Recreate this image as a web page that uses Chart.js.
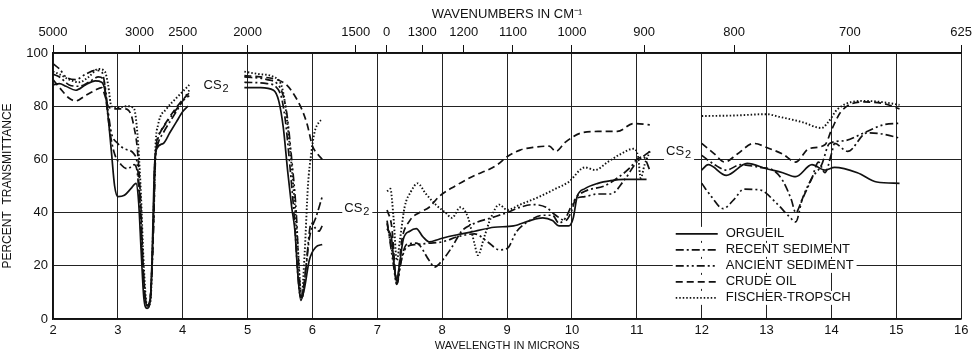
<!DOCTYPE html>
<html>
<head>
<meta charset="utf-8">
<script src="https://cdn.jsdelivr.net/npm/chart.js@4.4.0/dist/chart.umd.min.js"></script>
<style>
  html, body { margin: 0; padding: 0; background: #fff; }
  #wrap { width: 977px; height: 355px; }
</style>
</head>
<body>
<div id="wrap"><canvas id="mycanvas" width="977" height="355"></canvas></div>
<script>
var orgueil = [
    [2.0, 88], [2.1, 88.5], [2.2, 87.5], [2.35, 86], [2.5, 88], [2.65, 89.5], [2.75, 89], [2.8, 86], [2.85, 76],
    [2.9, 63], [2.95, 50], [3.0, 46], [3.1, 46.5], [3.2, 49], [3.28, 51], [3.32, 44], [3.36, 25], [3.4, 8],
    [3.45, 4], [3.5, 7], [3.53, 25], [3.56, 55], [3.6, 64], [3.7, 66], [3.8, 70], [3.9, 74], [4.0, 78], [4.08, 80],
    null,
    [4.95, 87], [5.2, 87], [5.4, 86], [5.48, 82], [5.55, 72], [5.62, 55], [5.68, 42], [5.73, 33], [5.77, 18],
    [5.82, 7], [5.88, 12], [5.95, 22], [6.05, 27], [6.15, 28],
    null,
    [7.15, 34], [7.22, 30], [7.27, 18], [7.3, 15], [7.35, 22], [7.4, 30], [7.5, 33], [7.6, 34], [7.7, 31],
    [7.8, 29], [7.95, 30], [8.1, 31], [8.3, 32], [8.5, 33], [8.8, 34.5], [9.1, 35], [9.35, 37], [9.55, 38],
    [9.7, 37], [9.8, 35], [9.95, 35], [10.02, 38], [10.08, 46], [10.2, 49], [10.4, 51], [10.6, 52], [10.8, 52.5],
    [11.15, 52.5],
    null,
    [12.0, 56], [12.1, 58], [12.38, 54], [12.7, 58.5], [13.0, 56.5], [13.25, 55], [13.45, 53.5], [13.7, 58],
    [13.9, 56], [14.05, 57], [14.4, 55], [14.7, 51.5], [15.05, 51]
];
var recentSediment = [
    [2.0, 92], [2.1, 91], [2.25, 88], [2.4, 87.5], [2.55, 89], [2.7, 91], [2.78, 90], [2.83, 80], [2.88, 70],
    [2.95, 62], [3.05, 58], [3.15, 56.5], [3.25, 58], [3.3, 55], [3.35, 35], [3.4, 12], [3.45, 5], [3.5, 8],
    [3.54, 30], [3.57, 58], [3.62, 66], [3.7, 70], [3.85, 76], [4.0, 82], [4.1, 86],
    null,
    [4.95, 89], [5.3, 88.5], [5.5, 85], [5.58, 75], [5.65, 58], [5.72, 38], [5.78, 15], [5.82, 8], [5.88, 15],
    [5.95, 30], [6.0, 35], [6.05, 38], [6.15, 46],
    null,
    [7.15, 36], [7.25, 22], [7.3, 13], [7.35, 20], [7.45, 28], [7.6, 28.5], [7.8, 22], [7.88, 19.5], [8.0, 22],
    [8.15, 27], [8.3, 33], [8.5, 36], [8.75, 38], [9.0, 40], [9.2, 42], [9.4, 43], [9.6, 42], [9.75, 39],
    [9.9, 37], [10.0, 41], [10.05, 45], [10.2, 48], [10.5, 50], [10.7, 53], [10.9, 57], [11.0, 60], [11.1, 61],
    [11.2, 56],
    null,
    [12.0, 61.5], [12.2, 58], [12.38, 56], [12.6, 58], [12.9, 57], [13.1, 56], [13.25, 52], [13.38, 45],
    [13.45, 40], [13.55, 45], [13.7, 53], [13.8, 59], [13.9, 55], [14.0, 62], [14.05, 66], [14.25, 63],
    [14.55, 70], [14.8, 69.5], [15.05, 68]
];
var ancientSediment = [
    [2.0, 96], [2.1, 94], [2.2, 91], [2.35, 90], [2.5, 92], [2.65, 93.5], [2.75, 93], [2.8, 88], [2.85, 78],
    [2.9, 70], [3.0, 66], [3.1, 64], [3.25, 62], [3.3, 58], [3.35, 40], [3.4, 15], [3.45, 5], [3.5, 8],
    [3.55, 35], [3.58, 60], [3.62, 68], [3.7, 72], [3.85, 77], [4.0, 82], [4.1, 84],
    null,
    [4.95, 91], [5.3, 90], [5.5, 87], [5.6, 78], [5.68, 60], [5.75, 40], [5.8, 15], [5.84, 8], [5.9, 20],
    [5.98, 36], [6.05, 34], [6.1, 33], [6.15, 35],
    null,
    [7.15, 37], [7.25, 20], [7.3, 13], [7.37, 22], [7.45, 27], [7.6, 28], [7.8, 28.5], [8.0, 29], [8.25, 31],
    [8.5, 32], [8.7, 29], [8.88, 26], [9.0, 26.5], [9.15, 33], [9.35, 37], [9.55, 39], [9.7, 39], [9.8, 36],
    [9.9, 38], [10.05, 45], [10.2, 46], [10.4, 47], [10.6, 47], [10.8, 52], [11.0, 59], [11.2, 63],
    null,
    [12.0, 51], [12.15, 46], [12.33, 41.5], [12.5, 45], [12.65, 48.8], [12.9, 48.5], [13.15, 43.6],
    [13.35, 38.5], [13.45, 36.5], [13.55, 45], [13.7, 53], [13.85, 58], [13.97, 66], [14.2, 67], [14.5, 70],
    [14.8, 73], [15.05, 73.6]
];
var crudeOil = [
    [2.0, 90], [2.1, 87], [2.25, 83], [2.35, 82], [2.5, 84], [2.65, 86], [2.75, 87], [2.8, 84], [2.85, 80],
    [2.95, 79], [3.1, 79], [3.2, 77], [3.25, 72], [3.3, 64], [3.35, 45], [3.4, 15], [3.45, 5], [3.5, 8],
    [3.55, 35], [3.58, 62], [3.65, 70], [3.8, 76], [3.95, 81], [4.1, 85],
    null,
    [4.95, 91.5], [5.2, 91], [5.45, 90], [5.6, 88], [5.75, 83], [5.85, 78], [5.92, 73], [6.0, 65], [6.08, 62],
    [6.15, 60],
    null,
    [7.15, 41], [7.22, 35], [7.3, 14], [7.38, 30], [7.5, 37], [7.65, 40], [7.8, 42], [7.95, 46], [8.2, 50],
    [8.5, 54], [8.7, 56], [8.85, 58], [9.0, 61], [9.2, 63.5], [9.4, 64.5], [9.65, 65], [9.75, 63], [9.9, 66.5],
    [10.15, 70], [10.4, 70.5], [10.7, 70.5], [10.95, 73.5], [11.2, 73],
    null,
    [12.0, 66], [12.2, 62], [12.35, 59], [12.55, 62], [12.8, 66], [13.05, 64], [13.25, 62], [13.45, 59],
    [13.65, 64], [13.9, 65.5], [14.0, 71], [14.15, 78], [14.5, 81.6], [14.8, 81], [15.05, 79]
];
var fischerTropsch = [
    [2.0, 93], [2.1, 92], [2.25, 90], [2.4, 89], [2.55, 91], [2.7, 94], [2.8, 93], [2.85, 88], [2.9, 80],
    [3.0, 79.5], [3.15, 80], [3.25, 79], [3.3, 70], [3.35, 50], [3.4, 20], [3.45, 5], [3.5, 6], [3.55, 40],
    [3.58, 65], [3.62, 73], [3.75, 79], [3.9, 83], [4.1, 88],
    null,
    [4.95, 93], [5.2, 92], [5.4, 91], [5.55, 85], [5.65, 65], [5.72, 45], [5.78, 25], [5.83, 8], [5.88, 25],
    [5.93, 50], [5.98, 62], [6.03, 70], [6.1, 74], [6.15, 75],
    null,
    [7.15, 48], [7.2, 49], [7.25, 38], [7.3, 22], [7.35, 30], [7.42, 42], [7.52, 48], [7.62, 51], [7.75, 47],
    [7.9, 43], [8.05, 40], [8.15, 38], [8.28, 42], [8.4, 38], [8.5, 28], [8.55, 24], [8.65, 31], [8.75, 38],
    [8.88, 43], [9.0, 41], [9.2, 43], [9.5, 46], [9.75, 49], [9.95, 51.5], [10.2, 57], [10.36, 56], [10.55, 59],
    [10.75, 62], [10.95, 64], [11.02, 61], [11.06, 53], [11.12, 58], [11.2, 63],
    null,
    [12.0, 76.3], [12.5, 76.5], [13.0, 77], [13.2, 76], [13.55, 74], [13.85, 71.8], [13.95, 74], [14.1, 79],
    [14.5, 82], [14.8, 81.5], [15.05, 80.5]
];

var seriesNames = ['ORGUEIL', 'RECENT SEDIMENT', 'ANCIENT SEDIMENT', 'CRUDE OIL', 'FISCHER-TROPSCH'];
var wavenumbers = [5000, 4000, 3000, 2500, 2000, 1500, 1400, 1300, 1200, 1100, 1000, 900, 800, 700, 625];
var wavenumberLabels = ['5000', '', '3000', '2500', '2000', '1500', '0', '1300', '1200', '1100', '1000', '900', '800', '700', '625'];
// CS2 band notes: [wavelength, percent]
var cs2Notes = [[4.32, 87.5], [6.49, 41.3], [11.45, 62.8]];

var dashes = [[], [8, 3, 2, 3], [8, 3, 2, 3, 2, 3], [7, 4], [1.5, 2]];
var fontFam = "'Liberation Sans', Arial, sans-serif";

function toPoints(arr) {
    var out = [];
    for (var i = 0; i < arr.length; i++) {
        if (arr[i] === null) {
            out.push({ x: out[out.length - 1].x + 0.05, y: null });
        } else {
            out.push({ x: arr[i][0], y: arr[i][1] });
        }
    }
    return out;
}

var allSeries = [orgueil, recentSediment, ancientSediment, crudeOil, fischerTropsch];
var datasets = [];
for (var i = 0; i < allSeries.length; i++) {
    datasets.push({
        label: seriesNames[i],
        data: toPoints(allSeries[i]),
        borderColor: '#111',
        borderWidth: i == 4 ? 1.9 : 1.7,
        borderDash: dashes[i],
        pointRadius: 0,
        fill: false,
        spanGaps: false,
        cubicInterpolationMode: 'monotone'
    });
}

// legend inside the plot + CS2 notes
var notesPlugin = {
    id: 'notes',
    afterDatasetsDraw: function (chart) {
        var ctx = chart.ctx;
        var xs = chart.scales.x, ys = chart.scales.y;
        ctx.save();
        ctx.font = '13px ' + fontFam;
        ctx.textBaseline = 'middle';
        var lx = xs.getPixelForValue(11.6);
        var ly = ys.getPixelForValue(32);
        for (var i = 0; i < seriesNames.length; i++) {
            var y = ly + i * 16;
            var tw = ctx.measureText(seriesNames[i]).width;
            ctx.fillStyle = '#fff';
            ctx.fillRect(lx - 3, y - 7, 50 + tw + 6, 14);
            ctx.strokeStyle = '#111';
            ctx.lineWidth = 1.6;
            ctx.setLineDash(dashes[i]);
            ctx.beginPath();
            ctx.moveTo(lx, y);
            ctx.lineTo(lx + 42, y);
            ctx.stroke();
            ctx.setLineDash([]);
            ctx.fillStyle = '#111';
            ctx.textAlign = 'left';
            ctx.fillText(seriesNames[i], lx + 50, y);
        }
        for (var j = 0; j < cs2Notes.length; j++) {
            var px = xs.getPixelForValue(cs2Notes[j][0]);
            var py = ys.getPixelForValue(cs2Notes[j][1]);
            ctx.font = '13px ' + fontFam;
            var w = ctx.measureText('CS').width;
            ctx.fillStyle = '#fff';
            ctx.fillRect(px - 2, py - 7, w + 12, 15);
            ctx.fillStyle = '#111';
            ctx.fillText('CS', px, py - 1);
            ctx.font = '11px ' + fontFam;
            ctx.fillText('2', px + w + 1, py + 3);
        }
        ctx.restore();
    }
};

Chart.defaults.font.family = fontFam;
Chart.defaults.color = '#111';

var ctx = document.getElementById('mycanvas');
var chart = new Chart(ctx, {
    type: 'line',
    data: { datasets: datasets },
    plugins: [notesPlugin],
    options: {
        responsive: false,
        animation: false,
        layout: { padding: { left: 0, right: 14, top: 0, bottom: 0 } },
        plugins: { legend: { display: false }, tooltip: { enabled: false } },
        scales: {
            x: {
                type: 'linear', position: 'bottom', min: 2, max: 16,
                ticks: { stepSize: 1, padding: 4, font: { size: 13 }, maxRotation: 0 },
                grid: { color: '#222', lineWidth: 1, drawTicks: false },
                border: { color: '#111', width: 1.5 },
                title: { display: true, text: 'WAVELENGTH IN MICRONS', font: { size: 11 }, padding: { top: 0, bottom: 2 } },
                afterFit: function (s) { s.height = 36; }
            },
            xTop: {
                type: 'linear', position: 'top', min: 2, max: 16,
                afterBuildTicks: function (s) {
                    s.ticks = wavenumbers.map(function (w) { return { value: 10000 / w }; });
                },
                ticks: {
                    autoSkip: false, maxRotation: 0, padding: 5, font: { size: 13 },
                    callback: function (v, idx) { return wavenumberLabels[idx]; }
                },
                grid: { drawOnChartArea: false, drawTicks: true, tickLength: 8, color: '#111' },
                border: { color: '#111', width: 1.5 },
                title: { display: true, text: 'WAVENUMBERS IN CM\u207B\u00B9', font: { size: 13 }, padding: { top: 7, bottom: 0 } },
                afterFit: function (s) { s.height = 53; }
            },
            y: {
                min: 0, max: 100,
                ticks: { stepSize: 20, padding: 5, font: { size: 13 } },
                grid: { color: '#222', lineWidth: 1, drawTicks: false },
                border: { color: '#111', width: 1.5 },
                title: { display: true, text: 'PERCENT  TRANSMITTANCE', font: { size: 12 }, padding: { top: 0, bottom: 3 } },
                afterFit: function (s) { s.width = 53; }
            }
        }
    }
});
</script>
</body>
</html>
